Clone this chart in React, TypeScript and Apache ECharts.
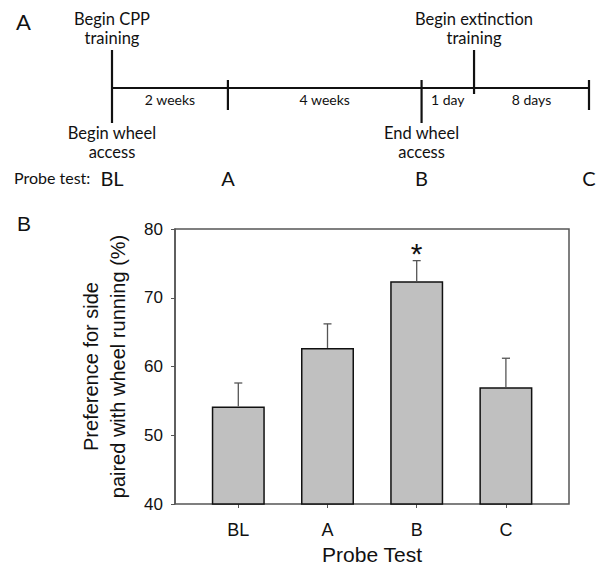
import React, { useEffect, useRef } from "react";
import * as echarts from "echarts";

// ---------- Panel B data ----------
const probeTests = ["BL", "A", "B", "C"];
const meanPreference = [54.2, 62.7, 72.4, 57.0];
const errorUpper = [57.6, 66.2, 75.4, 61.2];
const significant = [false, false, true, false];

// ---------- Panel A (schematic timeline) ----------
const timelinePositions = [0, 24.3, 64.9, 75.9, 100]; // schematic % along the timeline
const aboveLabels = ["Begin CPP\ntraining", "", "", "Begin extinction\ntraining", ""];
const belowLabels = ["Begin wheel\naccess", "", "End wheel\naccess", "", ""];
const probeLabels = ["BL", "A", "B", "", "C"];
const intervalLabels = ["2 weeks", "4 weeks", "1 day", "8 days"];

const ARIAL = "'Liberation Sans', Arial, Helvetica, sans-serif";
const HUMANIST = "Lato, 'Open Sans', sans-serif";

export default function App() {
  const ref = useRef<HTMLDivElement>(null);

  useEffect(() => {
    if (!ref.current) return;
    const chart = echarts.init(ref.current, undefined, { renderer: "svg" });

    const option: any = {
      animation: false,
      backgroundColor: "#ffffff",
      grid: [
        { left: 175, right: 32, top: 229, bottom: 62, show: true, borderColor: "#555", borderWidth: 1.5, backgroundColor: "transparent" },
        { left: 193.7, right: 50.5, top: 229, bottom: 62 },
        { left: 112, right: 12, top: 78, height: 10 },
      ],
      xAxis: [
        { gridIndex: 0, type: "value", min: 0, max: 1, show: false },
        {
          gridIndex: 1,
          type: "category",
          data: probeTests,
          axisLine: { show: false },
          axisTick: { show: true, alignWithLabel: true, length: 4, lineStyle: { color: "#555", width: 1 } },
          axisLabel: { margin: 17, fontSize: 18, fontFamily: ARIAL, color: "#111" },
          splitLine: { show: false },
          name: "Probe Test",
          nameLocation: "middle",
          nameGap: 40,
          nameTextStyle: { fontSize: 21, fontFamily: ARIAL, color: "#111" },
        },
        { gridIndex: 2, type: "value", min: 0, max: 100, show: false },
      ],
      yAxis: [
        {
          gridIndex: 0,
          type: "value",
          min: 40,
          max: 80,
          interval: 10,
          axisLine: { show: true, lineStyle: { color: "#555", width: 1.5 } },
          axisTick: { show: true, length: 4, lineStyle: { color: "#555", width: 1 } },
          axisLabel: { margin: 12, fontSize: 17, fontFamily: ARIAL, color: "#111" },
          splitLine: { show: false },
          name: "Preference for side\npaired with wheel running (%)",
          nameLocation: "middle",
          nameRotate: 90,
          nameGap: 44,
          nameTextStyle: { fontSize: 20, lineHeight: 27, fontFamily: ARIAL, color: "#111" },
        },
        { gridIndex: 1, type: "value", min: 40, max: 80, show: false },
        { gridIndex: 2, type: "value", min: 0, max: 1, show: false },
      ],
      series: [
        {
          type: "bar",
          xAxisIndex: 1,
          yAxisIndex: 1,
          data: meanPreference,
          barWidth: 53,
          itemStyle: { color: "#c0c0c0", borderColor: "#111", borderWidth: 1.5 },
          z: 2,
        },
        {
          type: "custom",
          xAxisIndex: 1,
          yAxisIndex: 1,
          data: probeTests.map((_, i) => [i, meanPreference[i], errorUpper[i], significant[i] ? 1 : 0]),
          encode: { x: 0, y: [1, 2] },
          z: 3,
          renderItem: (params: any, api: any) => {
            const i = api.value(0);
            const p0 = api.coord([i, api.value(1)]);
            const p1 = api.coord([i, api.value(2)]);
            const children: any[] = [
              { type: "line", shape: { x1: p0[0], y1: p0[1], x2: p1[0], y2: p1[1] }, style: { stroke: "#555", lineWidth: 1.3 } },
              { type: "line", shape: { x1: p1[0] - 4, y1: p1[1], x2: p1[0] + 4, y2: p1[1] }, style: { stroke: "#555", lineWidth: 1.3 } },
            ];
            if (api.value(3) === 1) {
              children.push({
                type: "text",
                style: { text: "*", x: p1[0], y: p1[1] - 7.5, align: "center", verticalAlign: "middle", fontSize: 30, fontFamily: ARIAL, fill: "#111" },
              });
            }
            return { type: "group", children };
          },
        },
        {
          type: "custom",
          xAxisIndex: 2,
          yAxisIndex: 2,
          data: timelinePositions.map((p, i) => [p, 0, i]),
          encode: { x: 0, y: 1 },
          z: 3,
          renderItem: (params: any, api: any) => {
            const i = params.dataIndex;
            const p = api.coord([timelinePositions[i], 0]);
            const x = p[0];
            const y = p[1];
            const above = aboveLabels[i];
            const below = belowLabels[i];
            const up = above ? 38 : 8;
            const down = below ? 35 : above ? 6 : 22;
            const children: any[] = [
              { type: "line", shape: { x1: x, y1: y - up, x2: x, y2: y + down }, style: { stroke: "#111", lineWidth: 2.2 } },
            ];
            if (i < timelinePositions.length - 1) {
              const q = api.coord([timelinePositions[i + 1], 0]);
              children.push({ type: "line", shape: { x1: x, y1: y, x2: q[0], y2: y }, style: { stroke: "#111", lineWidth: 2.2 } });
              children.push({
                type: "text",
                style: { text: intervalLabels[i], x: (x + q[0]) / 2, y: y + 11.5, align: "center", verticalAlign: "middle", fontSize: 14, fontFamily: HUMANIST, fill: "#111" },
              });
            }
            if (above) {
              children.push({
                type: "text",
                style: { text: above, x, y: y - 60, align: "center", verticalAlign: "middle", fontSize: 16.5, lineHeight: 19, fontFamily: HUMANIST, fill: "#111" },
              });
            }
            if (below) {
              children.push({
                type: "text",
                style: { text: below, x, y: y + 54, align: "center", verticalAlign: "middle", fontSize: 16.5, lineHeight: 19, fontFamily: HUMANIST, fill: "#111" },
              });
            }
            if (probeLabels[i]) {
              children.push({
                type: "text",
                style: { text: probeLabels[i], x, y: y + 90, align: "center", verticalAlign: "middle", fontSize: 20, fontFamily: HUMANIST, fill: "#111" },
              });
            }
            return { type: "group", children };
          },
        },
      ],
      graphic: [
        { type: "text", left: 16, top: 10, style: { text: "A", fontSize: 22, fontFamily: HUMANIST, fill: "#111" } },
        { type: "text", left: 14, top: 169, style: { text: "Probe test:", fontSize: 16, fontFamily: HUMANIST, fill: "#111" } },
        { type: "text", left: 17, top: 213, style: { text: "B", fontSize: 21, fontFamily: ARIAL, fill: "#111" } },
      ],
    };

    chart.setOption(option);
    return () => chart.dispose();
  }, []);

  return <div ref={ref} style={{ position: "absolute", left: 0, top: 0, width: 601, height: 566 }} />;
}
